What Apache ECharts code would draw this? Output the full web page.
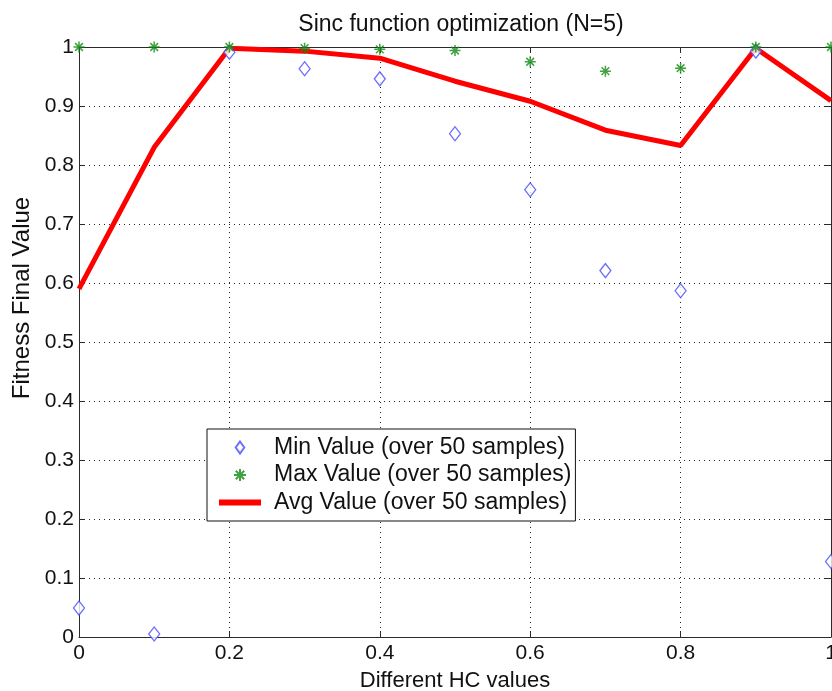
<!DOCTYPE html>
<html>
<head>
<meta charset="utf-8">
<script src="https://cdn.jsdelivr.net/npm/echarts@6/dist/echarts.min.js"></script>
<style>
  html, body { margin: 0; padding: 0; background: #fff; }
  #chart { width: 832px; height: 691px; }
</style>
</head>
<body>
<div id="chart"></div>
<script>
// HC values on the x axis
const hcValues = [0, 0.1, 0.2, 0.3, 0.4, 0.5, 0.6, 0.7, 0.8, 0.9, 1.0]
// fitness
const minValues = [0.049, 0.005, 0.991, 0.963, 0.946, 0.853, 0.758, 0.621, 0.587, 0.993, 0.128]
const maxValues = [1.0, 1.0, 1.0, 0.998, 0.996, 0.994, 0.975, 0.959, 0.964, 1.0, 1.0]
const avgValues = [0.590, 0.830, 0.998, 0.993, 0.981, 0.942, 0.908, 0.859, 0.833, 0.998, 0.909]

const fontFamily = '"Liberation Sans", Arial, sans-serif'
const asterisk = 'path://M0,5L10,5M5,0L5,10M1.5,1.5L8.5,8.5M8.5,1.5L1.5,8.5'
const diamondIcon = 'path://M5,0L10,7L5,14L0,7Z'
const barIcon = 'path://M0,0H42V6H0Z'

function pairs(ys) {
  return hcValues.map((x, i) => [x, ys[i]])
}

const chart = echarts.init(document.getElementById('chart'))

const gridLine = { show: true, lineStyle: { color: '#222', type: [1, 4], width: 1 } }
const boxLine = { show: true, onZero: false, lineStyle: { color: '#2a2a2a', width: 1 } }
const tick = { show: true, inside: true, length: 6, lineStyle: { color: '#2a2a2a' } }

const option = {
  animation: false,
  textStyle: { fontFamily: fontFamily },
  title: {
    text: 'Sinc function optimization (N=5)',
    left: 456,
    textAlign: 'center',
    top: 8,
    textStyle: { fontSize: 23, fontWeight: 'normal', color: '#111', fontFamily: fontFamily }
  },
  grid: { left: 79, top: 47, right: 1, bottom: 54, outerBoundsMode: 'none' },
  graphic: [
    {
      type: 'text',
      x: 22,
      y: 298,
      rotation: Math.PI / 2,
      style: {
        text: 'Fitness Final Value',
        font: '24px "Liberation Sans", Arial, sans-serif',
        fill: '#111',
        align: 'center',
        verticalAlign: 'middle'
      }
    }
  ],
  legend: {
    orient: 'vertical',
    left: 207,
    top: 429,
    itemWidth: 42,
    itemHeight: 12,
    itemGap: 4.5,
    padding: [7, 4, 7, 12],
    backgroundColor: '#fff',
    borderColor: '#111',
    borderWidth: 1,
    borderRadius: 0,
    textStyle: { fontSize: 23, lineHeight: 22, color: '#111', fontFamily: fontFamily, padding: [0, 0, 0, 8] },
    data: [
      { name: 'Min Value (over 50 samples)', icon: diamondIcon },
      { name: 'Max Value (over 50 samples)', icon: asterisk },
      { name: 'Avg Value (over 50 samples)', icon: barIcon }
    ]
  },
  xAxis: [
    {
      type: 'value',
      min: 0,
      max: 1,
      interval: 0.2,
      name: 'Different HC values',
      nameLocation: 'middle',
      nameGap: 33,
      nameTextStyle: { fontSize: 22, color: '#111' },
      axisLine: boxLine,
      axisTick: tick,
      axisLabel: { fontSize: 21, color: '#111', margin: 6 },
      splitLine: gridLine
    },
    {
      type: 'value',
      position: 'top',
      min: 0,
      max: 1,
      interval: 0.2,
      axisLine: boxLine,
      axisTick: tick,
      axisLabel: { show: false },
      splitLine: { show: false }
    }
  ],
  yAxis: [
    {
      type: 'value',
      min: 0,
      max: 1,
      interval: 0.1,
      axisLine: boxLine,
      axisTick: tick,
      axisLabel: { fontSize: 21, color: '#111', margin: 5 },
      splitLine: gridLine
    },
    {
      type: 'value',
      position: 'right',
      min: 0,
      max: 1,
      interval: 0.1,
      axisLine: boxLine,
      axisTick: tick,
      axisLabel: { show: false },
      splitLine: { show: false }
    }
  ],
  series: [
    {
      name: 'Min Value (over 50 samples)',
      type: 'scatter',
      symbol: 'diamond',
      symbolSize: [11, 14],
      itemStyle: { color: '#fff', borderColor: '#4a4aff', borderWidth: 1.3 },
      data: pairs(minValues),
      z: 3
    },
    {
      name: 'Max Value (over 50 samples)',
      type: 'scatter',
      symbol: asterisk,
      symbolSize: 11,
      itemStyle: { color: 'none', borderColor: '#108a10', borderWidth: 1.5 },
      data: pairs(maxValues),
      z: 4
    },
    {
      name: 'Avg Value (over 50 samples)',
      type: 'line',
      symbol: 'none',
      lineStyle: { color: '#ff0000', width: 5 },
      itemStyle: { color: '#ff0000' },
      data: pairs(avgValues),
      z: 2
    }
  ]
}

chart.setOption(option)
</script>
</body>
</html>
